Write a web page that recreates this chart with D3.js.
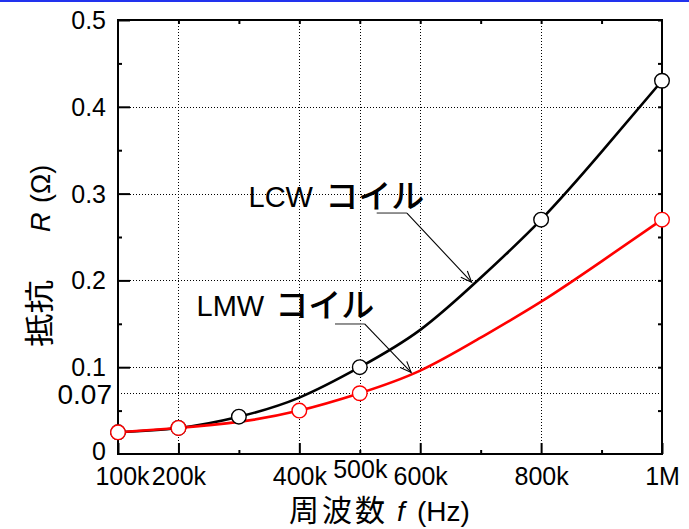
<!DOCTYPE html>
<html>
<head>
<meta charset="utf-8">
<script src="https://cdn.jsdelivr.net/npm/d3@7"></script>
<style>
  body { margin: 0; background: #fff; }
  text { font-family: "Liberation Sans", Arial, "Noto Sans CJK JP", sans-serif; fill: #000; }
  .jp { font-family: "Noto Sans CJK JP", sans-serif; }
</style>
</head>
<body>
<svg id="chart" width="689" height="529"></svg>
<script>
// Axis ticks and labels
const freqTicks = [100e3, 200e3, 400e3, 500e3, 600e3, 800e3, 1e6];
const freqTickLabels = ["100k", "200k", "400k", "500k", "600k", "800k", "1M"];
const freqMajor = [100e3, 200e3, 400e3, 600e3, 800e3, 1e6];
const freqMinor = [300e3, 500e3, 700e3, 900e3];
const freqTop = [200e3, 300e3, 400e3, 500e3, 600e3, 700e3, 800e3, 900e3];
const freqGrid = [200e3, 400e3, 500e3, 600e3, 800e3];

const rTicks = [0, 0.07, 0.1, 0.2, 0.3, 0.4, 0.5];
const rTickLabels = ["0", "0.07", "0.1", "0.2", "0.3", "0.4", "0.5"];
const rMajor = [0.1, 0.2, 0.3, 0.4, 0.5];
const rMinor = [0.05, 0.15, 0.25, 0.35, 0.45];
const rGrid = [0.07, 0.1, 0.2, 0.3, 0.4];

// Measured resistance (ohm) of each coil
const lcwFreq = [100e3, 200e3, 300e3, 500e3, 800e3, 1e6];
const lcwR = [0.025, 0.030, 0.043, 0.100, 0.270, 0.430];
const lmwFreq = [100e3, 200e3, 400e3, 500e3, 1e6];
const lmwR = [0.025, 0.030, 0.050, 0.070, 0.270];

// Fitted curves, sampled every 100 kHz
const curveFreq = [100e3, 200e3, 300e3, 400e3, 500e3, 600e3, 700e3, 800e3, 900e3, 1e6];
const lcwCurve = [0.025, 0.030, 0.043, 0.065, 0.100, 0.143, 0.203, 0.270, 0.348, 0.430];
const lmwCurve = [0.025, 0.030, 0.037, 0.050, 0.070, 0.096, 0.134, 0.1755, 0.222, 0.270];

// Callout labels: text anchor and arrow tip in data units
const callouts = [
  { latin: "LCW", kana: "コイル", textF: 316e3, textR: 0.2846, kanaF: 443e3,
    lineF: [528e3, 578e3], lineR: 0.2776, tipF: 685e3, tipR: 0.198 },
  { latin: "LMW", kana: "コイル", textF: 230e3, textR: 0.159, kanaF: 360e3,
    lineF: [459e3, 508e3], lineR: 0.1498, tipF: 585e3, tipR: 0.094 }
];

const W = 689, H = 529;
const x = d3.scaleLinear().domain([100e3, 1e6]).range([118, 662]);
const y = d3.scaleLinear().domain([0, 0.5]).range([454, 20]);

const svg = d3.select("#chart");

// blue rule across the top
svg.append("rect").attr("x", 0).attr("y", 0).attr("width", W).attr("height", 2).attr("fill", "#2233ee");

// dotted grid
const grid = svg.append("g").attr("stroke", "#000").attr("stroke-width", 1).attr("stroke-dasharray", "1,2");
grid.selectAll("line.gv").data(freqGrid).join("line").attr("class", "gv")
  .attr("x1", d => Math.round(x(d)) + 0.5).attr("x2", d => Math.round(x(d)) + 0.5)
  .attr("y1", y(0.5)).attr("y2", y(0));
grid.selectAll("line.gh").data(rGrid).join("line").attr("class", "gh")
  .attr("y1", d => Math.round(y(d)) + 0.5).attr("y2", d => Math.round(y(d)) + 0.5)
  .attr("x1", x(100e3)).attr("x2", x(1e6));

function styleAxis(g) {
  g.select(".domain").remove();
  g.selectAll(".tick line").attr("stroke", "#000").attr("stroke-width", 2);
}

// bottom axis
svg.append("g").attr("transform", `translate(0,${y(0)})`)
  .call(d3.axisBottom(x).tickValues(freqMajor).tickSize(-11).tickFormat("")).call(styleAxis);
svg.append("g").attr("transform", `translate(0,${y(0)})`)
  .call(d3.axisBottom(x).tickValues(freqMinor).tickSize(-4).tickFormat("")).call(styleAxis);
const xLab = svg.append("g").attr("transform", `translate(0,${y(0)})`)
  .call(d3.axisBottom(x).tickValues(freqTicks).tickSize(0).tickPadding(13)
    .tickFormat((d, i) => freqTickLabels[i])).call(styleAxis);
xLab.selectAll("text").attr("font-size", 25).attr("font-family", null)
  .attr("dy", d => d === 500e3 ? "0.45em" : "0.71em")
  .attr("dx", d => d === 100e3 ? 4 : 0);

// top axis
svg.append("g").attr("transform", `translate(0,${y(0.5)})`)
  .call(d3.axisTop(x).tickValues(freqTop).tickSize(-4).tickFormat("")).call(styleAxis);

// left axis
svg.append("g").attr("transform", `translate(${x(100e3)},0)`)
  .call(d3.axisLeft(y).tickValues(rMajor).tickSize(-12).tickFormat("")).call(styleAxis);
svg.append("g").attr("transform", `translate(${x(100e3)},0)`)
  .call(d3.axisLeft(y).tickValues(rMinor).tickSize(-4).tickFormat("")).call(styleAxis);
const yLab = svg.append("g").attr("transform", `translate(${x(100e3)},0)`)
  .call(d3.axisLeft(y).tickValues(rTicks).tickSize(0).tickPadding(12)
    .tickFormat((d, i) => rTickLabels[i])).call(styleAxis);
yLab.selectAll("text").attr("font-family", null)
  .attr("font-size", d => d === 0.07 ? 28 : 25)
  .attr("dx", d => d === 0.07 ? 6 : 0)
  .attr("dy", d => d === 0 ? "0.2em" : (d === 0.07 ? "0.38em" : "0.34em"));

// right axis
svg.append("g").attr("transform", `translate(${x(1e6)},0)`)
  .call(d3.axisRight(y).tickValues(rMajor.concat(rMinor)).tickSize(-4).tickFormat("")).call(styleAxis);

// plot frame
svg.append("rect").attr("x", x(100e3)).attr("y", y(0.5))
  .attr("width", x(1e6) - x(100e3)).attr("height", y(0) - y(0.5))
  .attr("fill", "none").attr("stroke", "#000").attr("stroke-width", 2);

// fitted curves
const line = d3.line().x((d, i) => x(curveFreq[i])).y(d => y(d)).curve(d3.curveNatural);
svg.append("path").datum(lcwCurve).attr("d", line)
  .attr("fill", "none").attr("stroke", "#000").attr("stroke-width", 2.6);
svg.append("path").datum(lmwCurve).attr("d", line)
  .attr("fill", "none").attr("stroke", "#ff0000").attr("stroke-width", 2.6);

// measured points
svg.append("g").selectAll("circle").data(lcwR).join("circle")
  .attr("cx", (d, i) => x(lcwFreq[i])).attr("cy", d => y(d)).attr("r", 7.3)
  .attr("fill", "#fff").attr("stroke", "#000").attr("stroke-width", 1.4);
svg.append("g").selectAll("circle").data(lmwR).join("circle")
  .attr("cx", (d, i) => x(lmwFreq[i])).attr("cy", d => y(d)).attr("r", 7.3)
  .attr("fill", "#fff").attr("stroke", "#ff0000").attr("stroke-width", 1.4);

// arrowhead
svg.append("defs").append("marker").attr("id", "arrow")
  .attr("viewBox", "-12 -6 14 12").attr("refX", 0).attr("refY", 0)
  .attr("markerWidth", 14).attr("markerHeight", 12).attr("markerUnits", "userSpaceOnUse")
  .attr("orient", "auto")
  .append("path").attr("d", "M-11,-4.5 L0,0 L-11,4.5").attr("fill", "none")
  .attr("stroke", "#000").attr("stroke-width", 1.1);

// callouts
const co = svg.append("g");
callouts.forEach(c => {
  co.append("text").attr("x", x(c.textF)).attr("y", y(c.textR)).attr("font-size", 29).text(c.latin);
  co.append("text").attr("class", "jp").attr("x", x(c.kanaF)).attr("y", y(c.textR) + 1)
    .attr("font-size", 33).attr("font-weight", 500).text(c.kana);
  co.append("line").attr("x1", x(c.lineF[0])).attr("x2", x(c.lineF[1]))
    .attr("y1", y(c.lineR)).attr("y2", y(c.lineR)).attr("stroke", "#777").attr("stroke-width", 1.6);
  co.append("line").attr("x1", x(c.lineF[1])).attr("y1", y(c.lineR))
    .attr("x2", x(c.tipF)).attr("y2", y(c.tipR))
    .attr("stroke", "#000").attr("stroke-width", 1.1).attr("marker-end", "url(#arrow)");
});

// axis titles
const xt = svg.append("g").attr("transform", `translate(289,521)`);
xt.append("text").attr("class", "jp").attr("x", 0).attr("y", 0).attr("font-size", 30)
  .attr("textLength", 96).attr("lengthAdjust", "spacing").text("周波数");
xt.append("text").attr("x", 108).attr("y", 0).attr("font-size", 28).attr("font-style", "italic").text("f");
xt.append("text").attr("x", 128).attr("y", 0).attr("font-size", 28).text("(Hz)");

const yt = svg.append("g").attr("transform", `translate(50,347) rotate(-90)`);
yt.append("text").attr("class", "jp").attr("x", 0).attr("y", 0).attr("font-size", 30)
  .attr("transform", "scale(1.12,1)").text("抵抗");
yt.append("text").attr("x", 115).attr("y", 0).attr("font-size", 27).attr("font-style", "italic").text("R");
yt.append("text").attr("x", 144).attr("y", 0).attr("font-size", 27).text("(Ω)");
</script>
</body>
</html>
